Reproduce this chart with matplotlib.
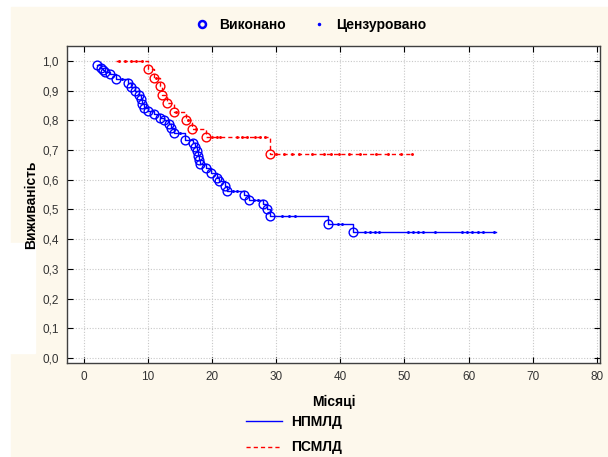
"""
Kaplan-Meier survival curves for two groups (НПМЛД and ПСМЛД),
redrawn in the old Statistica look.
"""

import matplotlib
matplotlib.use('Agg')
import matplotlib.pyplot as plt
from matplotlib.lines import Line2D
from matplotlib.patches import Rectangle
from matplotlib.ticker import FuncFormatter

# НПМЛД (blue): completed events (circles), step curve, censored cases
blue_event_t = [2.0, 2.6, 3.0, 3.3, 4.0, 5.0, 6.8, 7.4, 8.0, 8.6, 8.9, 9.0, 9.3,
                10.0, 11.0, 11.9, 12.5, 13.2, 13.5, 14.1, 15.8, 17.0, 17.3, 17.6,
                17.8, 18.0, 18.1, 19.0, 19.8, 20.7, 21.0, 22.0, 22.3, 25.0, 25.8,
                28.0, 28.5, 29.0, 38.0, 42.0]
blue_event_s = [0.985, 0.977, 0.970, 0.962, 0.955, 0.940, 0.925, 0.912, 0.900,
                0.885, 0.870, 0.855, 0.840, 0.830, 0.820, 0.808, 0.800, 0.787,
                0.775, 0.757, 0.735, 0.722, 0.710, 0.695, 0.680, 0.665, 0.652,
                0.638, 0.622, 0.607, 0.594, 0.578, 0.562, 0.549, 0.533, 0.517,
                0.502, 0.478, 0.450, 0.423]
blue_end_t = 64.3
blue_cens_t = [5.9, 15.0, 23.2, 23.9, 26.6, 27.2, 30.9, 32.0, 32.9, 39.6, 40.3,
               43.8, 44.6, 45.4, 46.1, 50.6, 51.4, 52.1, 52.9, 54.8, 58.9, 59.7,
               60.5, 61.5, 62.2, 63.9]
blue_cens_s = [0.940, 0.757, 0.562, 0.562, 0.533, 0.533, 0.478, 0.478, 0.478,
               0.450, 0.450, 0.423, 0.423, 0.423, 0.423, 0.423, 0.423, 0.423,
               0.423, 0.423, 0.423, 0.423, 0.423, 0.423, 0.423, 0.423]

# ПСМЛД (red)
red_start_t = 5.0
red_event_t = [10.0, 10.9, 11.8, 12.1, 13.0, 14.0, 15.9, 16.9, 19.0, 29.0]
red_event_s = [0.971, 0.943, 0.914, 0.886, 0.857, 0.829, 0.800, 0.771, 0.743, 0.686]
red_end_t = 51.2
red_cens_t = [5.4, 6.4, 7.3, 8.1, 9.0, 11.3, 14.4, 16.3, 17.4, 19.9, 20.7, 21.2,
              23.8, 24.6, 25.4, 26.7, 27.5, 28.2, 30.0, 31.2, 32.4, 33.6, 35.5,
              37.5, 38.6, 39.8, 41.3, 43.0, 45.5, 47.5, 49.5, 51.2]
red_cens_s = [1.0, 1.0, 1.0, 1.0, 1.0, 0.943, 0.829, 0.800, 0.771, 0.743, 0.743,
              0.743, 0.743, 0.743, 0.743, 0.743, 0.743, 0.743, 0.686, 0.686,
              0.686, 0.686, 0.686, 0.686, 0.686, 0.686, 0.686, 0.686, 0.686,
              0.686, 0.686, 0.686]

group_labels = ['НПМЛД', 'ПСМЛД']
marker_labels = ['Виконано', 'Цензуровано']
x_ticks = [0, 10, 20, 30, 40, 50, 60, 70, 80]
y_ticks = [0.0, 0.1, 0.2, 0.3, 0.4, 0.5, 0.6, 0.7, 0.8, 0.9, 1.0]

BLUE = '#0000ff'
RED = '#ff0000'
CREAM = '#fdf8ec'


def main():
    plt.rcParams['font.family'] = ['Liberation Sans', 'DejaVu Sans']

    fig = plt.figure(figsize=(6.08, 4.57), dpi=100)
    fig.patch.set_facecolor('white')
    # cream panel with a thin white margin at the top and left
    fig.add_artist(Rectangle((11 / 608, 0), 1, 1 - 7 / 457,
                             transform=fig.transFigure, color=CREAM, zorder=-10))
    fig.add_artist(Rectangle((0, 1 - 353 / 457), 35 / 608, 110 / 457,
                             transform=fig.transFigure, color='white', zorder=-9))

    ax = fig.add_axes([67 / 608, 1 - 363 / 457, 533 / 608, 317 / 457])
    ax.set_facecolor('white')

    # step curves
    bt = [blue_event_t[0]] + blue_event_t + [blue_end_t]
    bs = [blue_event_s[0]] + blue_event_s + [blue_event_s[-1]]
    ax.step(bt, bs, where='post', color=BLUE, lw=1.0, zorder=3)
    rt = [red_start_t] + red_event_t + [red_end_t]
    rs = [1.0] + red_event_s + [red_event_s[-1]]
    ax.step(rt, rs, where='post', color=RED, lw=1.0,
            linestyle=(0, (3, 2.2)), zorder=3)

    # completed (circles) and censored marks
    ax.plot(blue_event_t, blue_event_s, 'o', ms=6.3, mfc='none', mec=BLUE,
            mew=1.0, zorder=4)
    ax.plot(red_event_t, red_event_s, 'o', ms=6.3, mfc='none', mec=RED,
            mew=1.0, zorder=4)
    ax.plot(blue_cens_t, blue_cens_s, '.', ms=2.2, color=BLUE, zorder=4)
    ax.plot(red_cens_t, red_cens_s, '.', ms=2.2, color=RED, zorder=4)

    ax.set_xlim(-2.65, 80.5)
    ax.set_ylim(-0.017, 1.05)
    ax.set_xticks(x_ticks)
    ax.set_yticks(y_ticks)
    ax.yaxis.set_major_formatter(FuncFormatter(lambda v, p: f'{v:.1f}'.replace('.', ',')))
    ax.tick_params(direction='in', length=4, width=0.8, labelsize=8.5,
                   labelcolor='#333333', top=True, right=True, pad=6)
    ax.grid(True, color='#c8c8c8', linestyle=(0, (1, 1.5)), lw=0.8)
    for sp in ax.spines.values():
        sp.set_color('#404040')
        sp.set_linewidth(1.0)

    ax.set_xlabel('Місяці', fontsize=10, fontweight='bold', labelpad=8)
    ax.set_ylabel('Виживаність', fontsize=10, fontweight='bold', labelpad=3)

    # top legend: marker types
    top_handles = [
        Line2D([], [], marker='o', ls='none', ms=5, mfc='none', mec=BLUE, mew=1.8),
        Line2D([], [], marker='.', ls='none', ms=3, color=BLUE),
    ]
    fig.legend(top_handles, marker_labels, loc='center', ncol=2,
               bbox_to_anchor=(310 / 608, 1 - 25 / 457), frameon=False,
               prop={'weight': 'bold', 'size': 10}, handlelength=1.2,
               handletextpad=0.6, columnspacing=1.8)

    # bottom legend: groups
    bottom_handles = [
        Line2D([], [], color=BLUE, lw=1.0),
        Line2D([], [], color=RED, lw=1.0, linestyle=(0, (3, 2.2))),
    ]
    fig.legend(bottom_handles, group_labels, loc='upper left',
               bbox_to_anchor=(240 / 608, 1 - 409 / 457), frameon=False,
               prop={'weight': 'bold', 'size': 10}, handlelength=2.6,
               handletextpad=0.7, labelspacing=0.85, borderaxespad=0)

    fig.savefig('out.png', dpi=100, facecolor=fig.get_facecolor())


if __name__ == '__main__':
    main()
